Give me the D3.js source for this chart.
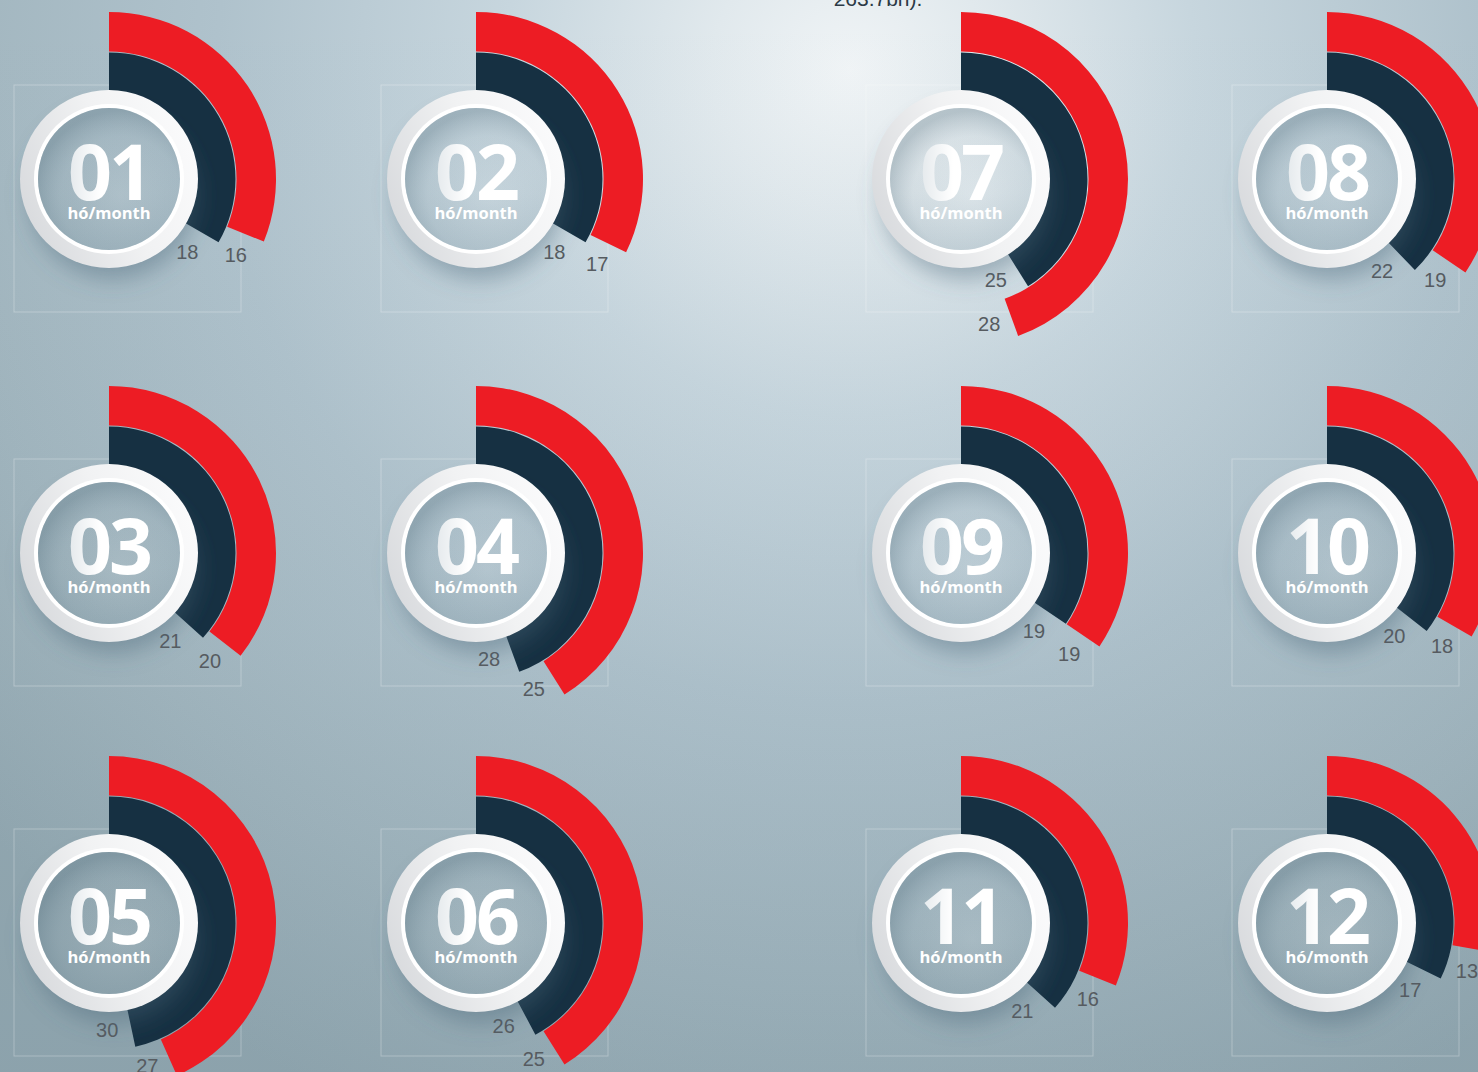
<!DOCTYPE html>
<html>
<head>
<meta charset="utf-8">
<script src="https://cdn.jsdelivr.net/npm/d3@7"></script>
<style>
  html, body { margin: 0; padding: 0; overflow: hidden; }
  svg { display: block; }
</style>
</head>
<body>
<svg id="chart" width="1478" height="1072"></svg>
<script>
// ---- data ----
const months = ["01","02","03","04","05","06","07","08","09","10","11","12"];
const darkValues = [18, 18, 21, 28, 30, 26, 25, 22, 19, 20, 21, 17];
const redValues  = [16, 17, 20, 25, 27, 25, 28, 19, 19, 18, 16, 13];
const unitLabel = "hó/month";
const headerText = "263.7bn).";

// ---- layout ----
const W = 1478, H = 1072;
const colX = [109, 476, 961, 1327];
const rowY = [179, 553, 923];
const rDarkIn = 88, rDarkOut = 126.5, rRedIn = 127.5, rRedOut = 167;
const badgeR = 89;

const svg = d3.select("#chart");
const defs = svg.append("defs");

// background
const bg = defs.append("radialGradient").attr("id", "bg")
  .attr("gradientUnits", "userSpaceOnUse")
  .attr("cx", 850).attr("cy", 70).attr("r", 1150);
[[0, "#f0f4f6"], [0.12, "#e1e9ed"], [0.3, "#c7d6de"], [0.55, "#afc2cc"], [0.8, "#a1b5be"], [1, "#94a9b2"]]
  .forEach(([o, c]) => bg.append("stop").attr("offset", o).attr("stop-color", c));
svg.append("rect").attr("width", W).attr("height", H).attr("fill", "url(#bg)");

// darker toward the bottom overlay
const shade = defs.append("linearGradient").attr("id", "shade")
  .attr("x1", 0).attr("y1", 0).attr("x2", 0).attr("y2", 1);
shade.append("stop").attr("offset", 0).attr("stop-color", "#5d7a88").attr("stop-opacity", 0);
shade.append("stop").attr("offset", 0.6).attr("stop-color", "#5d7a88").attr("stop-opacity", 0.04);
shade.append("stop").attr("offset", 1).attr("stop-color", "#5d7a88").attr("stop-opacity", 0.14);
svg.append("rect").attr("width", W).attr("height", H).attr("fill", "url(#shade)");

// ring gradient
const ring = defs.append("linearGradient").attr("id", "ring")
  .attr("x1", 0).attr("y1", 0.7).attr("x2", 1).attr("y2", 0.3);
ring.append("stop").attr("offset", 0).attr("stop-color", "#d8dadd");
ring.append("stop").attr("offset", 0.55).attr("stop-color", "#f1f2f3");
ring.append("stop").attr("offset", 1).attr("stop-color", "#fbfbfc");

// inner disc shading (semi-transparent so the background shows through)
const disc = defs.append("radialGradient").attr("id", "disc")
  .attr("cx", 0.58).attr("cy", 0.62).attr("r", 0.6);
disc.append("stop").attr("offset", 0).attr("stop-color", "#ffffff").attr("stop-opacity", 0.08);
disc.append("stop").attr("offset", 0.7).attr("stop-color", "#6f8896").attr("stop-opacity", 0.08);
disc.append("stop").attr("offset", 1).attr("stop-color", "#4f6b7a").attr("stop-opacity", 0.32);

const numGrad = defs.append("linearGradient").attr("id", "num")
  .attr("x1", 0).attr("y1", 0).attr("x2", 1).attr("y2", 0);
numGrad.append("stop").attr("offset", 0).attr("stop-color", "#e4e9ec");
numGrad.append("stop").attr("offset", 0.4).attr("stop-color", "#ffffff");
numGrad.append("stop").attr("offset", 1).attr("stop-color", "#ffffff");

const blur = defs.append("filter").attr("id", "shadow")
  .attr("x", -0.5).attr("y", -0.5).attr("width", 2).attr("height", 2);
blur.append("feGaussianBlur").attr("stdDeviation", 11);

// header text (cut off at top)
svg.append("text")
  .attr("x", 878).attr("y", 6)
  .attr("text-anchor", "middle")
  .attr("font-family", "'Liberation Sans', Arial, sans-serif")
  .attr("font-size", 21)
  .attr("fill", "#2c3a46")
  .text(headerText);

// ---- scales ----
const angle = d3.scaleLinear().domain([0, 30]).range([48 * Math.PI / 180, 168 * Math.PI / 180]);
const darkArc = d3.arc().innerRadius(rDarkIn).outerRadius(rDarkOut).startAngle(0);
const redArc = d3.arc().innerRadius(rRedIn).outerRadius(rRedOut).startAngle(0);

const data = months.map((m, i) => {
  const block = i < 6 ? 0 : 1;
  const within = i % 6;
  return {
    month: m, dark: darkValues[i], red: redValues[i],
    cx: colX[block * 2 + (within % 2)],
    cy: rowY[Math.floor(within / 2)]
  };
});

const g = svg.selectAll("g.gauge").data(data).join("g")
  .attr("class", "gauge")
  .attr("transform", d => `translate(${d.cx},${d.cy})`);

// faint frame
g.append("rect")
  .attr("x", -95).attr("y", -94).attr("width", 227).attr("height", 227)
  .attr("fill", "none").attr("stroke", "#ffffff").attr("stroke-opacity", 0.28).attr("stroke-width", 1);

// arcs
g.append("path").attr("fill", "#ed1c24")
  .attr("d", d => redArc({ endAngle: angle(d.red) }));
g.append("path").attr("fill", "#163042")
  .attr("d", d => darkArc({ endAngle: angle(d.dark) }));

// value labels
function labelPos(v, r, offDeg) {
  const a = angle(v) + offDeg * Math.PI / 180;
  return [r * Math.sin(a), -r * Math.cos(a)];
}
const labelStyle = sel => sel
  .attr("text-anchor", "middle")
  .attr("dominant-baseline", "central")
  .attr("font-family", "'Liberation Sans', Arial, sans-serif")
  .attr("font-size", 20)
  .attr("fill", "#565b60");
g.append("text").call(labelStyle)
  .attr("x", d => labelPos(d.dark, 107, 13)[0])
  .attr("y", d => labelPos(d.dark, 107, 13)[1])
  .text(d => d.dark);
g.append("text").call(labelStyle)
  .attr("x", d => labelPos(d.red, 148, 9)[0])
  .attr("y", d => labelPos(d.red, 148, 9)[1])
  .text(d => d.red);

// badge
g.append("circle").attr("cx", 4).attr("cy", 16).attr("r", 84)
  .attr("fill", "#4a6676").attr("fill-opacity", 0.42).attr("filter", "url(#shadow)");
g.append("circle").attr("r", badgeR).attr("fill", "url(#ring)");
g.append("circle").attr("r", 75).attr("fill", "#ffffff");
g.append("circle").attr("r", 71).attr("fill", "url(#bg)")
  .attr("transform", d => `translate(${-d.cx},${-d.cy})`)
  .attr("cx", d => d.cx).attr("cy", d => d.cy);
g.append("circle").attr("r", 71).attr("fill", "url(#shade)")
  .attr("transform", d => `translate(${-d.cx},${-d.cy})`)
  .attr("cx", d => d.cx).attr("cy", d => d.cy);
g.append("circle").attr("r", 71).attr("fill", "url(#disc)");

g.append("text")
  .attr("x", 0).attr("y", 21)
  .attr("text-anchor", "middle")
  .attr("font-family", "'Open Sans', 'Noto Sans', sans-serif")
  .attr("font-weight", 700)
  .attr("font-size", 77)
  .attr("letter-spacing", -3)
  .attr("fill", "url(#num)")
  .text(d => d.month);

g.append("text")
  .attr("x", 0).attr("y", 40)
  .attr("text-anchor", "middle")
  .attr("font-family", "'Open Sans', 'Noto Sans', sans-serif")
  .attr("font-weight", 700)
  .attr("font-size", 16.5)
  .attr("fill", "#ffffff")
  .text(unitLabel);
</script>
</body>
</html>
